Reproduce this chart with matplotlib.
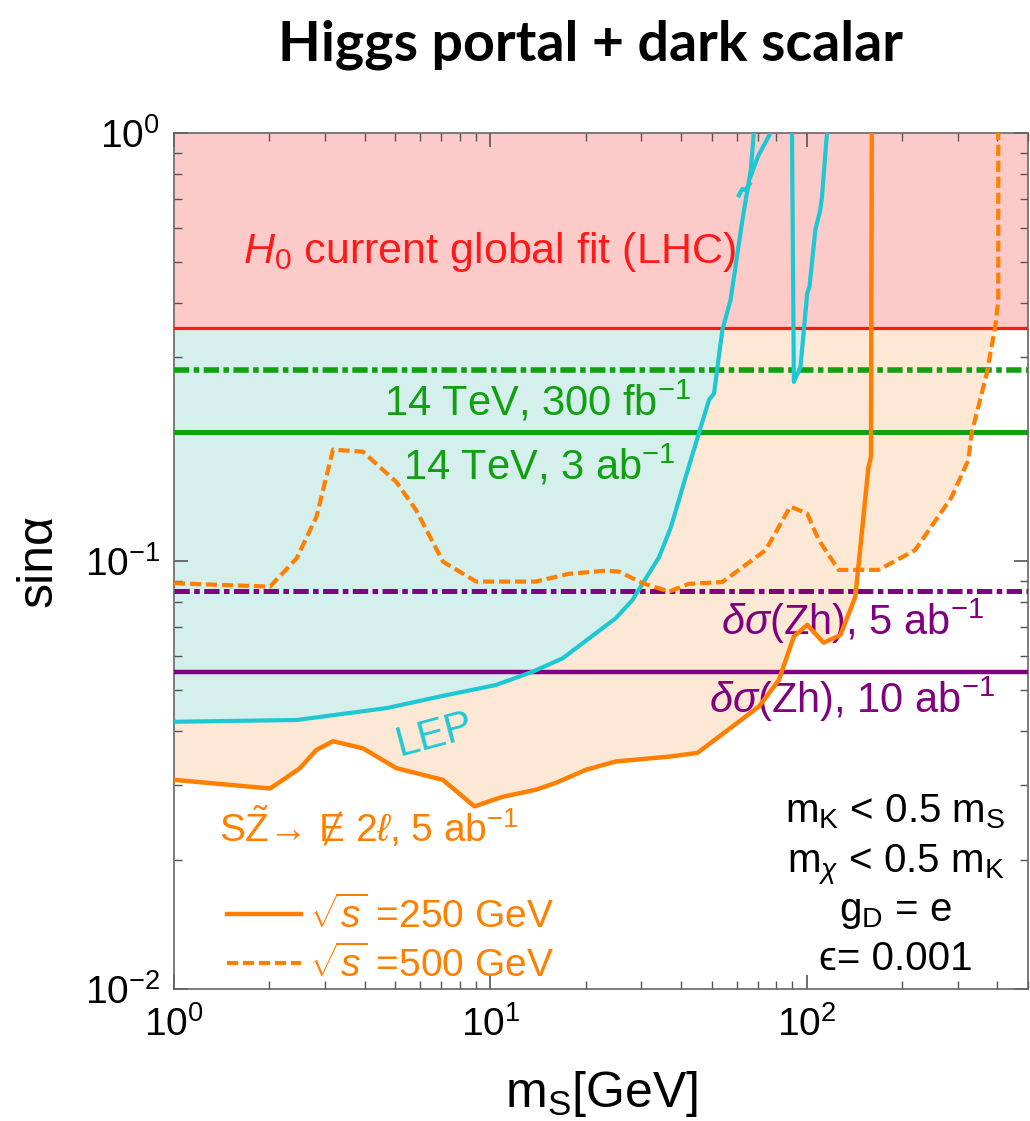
import matplotlib
matplotlib.use("Agg")
import matplotlib.pyplot as plt
from matplotlib.ticker import LogLocator, LogFormatterSciNotation, NullFormatter

plt.rcParams['font.family'] = ['Liberation Sans', 'DejaVu Sans']
plt.rcParams['mathtext.fontset'] = 'custom'
plt.rcParams['mathtext.rm'] = 'Liberation Sans'
plt.rcParams['mathtext.it'] = 'Liberation Sans:italic'
plt.rcParams['mathtext.bf'] = 'Liberation Sans:bold'
plt.rcParams['lines.scale_dashes'] = False

# limits on sin(alpha)
lhc_now = 0.35
hl_300fb = 0.28
hl_3ab = 0.20
zh_5ab = 0.085
zh_10ab = 0.055

# LEP exclusion
lep_m = [1.0, 2.44, 4.69, 7.08, 10.4, 13.6, 16.9, 24.9, 28.1, 31.7, 34.1, 37.2,
         41.4, 45.6, 49.1, 50.9, 52.2, 54.1, 57.4, 62.6, 66.5, 68.0]
lep_s = [0.0421, 0.0425, 0.0453, 0.0484, 0.0513, 0.0551, 0.0592, 0.0735, 0.081,
         0.0935, 0.102, 0.120, 0.157, 0.199, 0.238, 0.246, 0.284, 0.347, 0.407,
         0.627, 0.82, 1.0]
lep2_m = [66.4, 70.0, 76.8]
lep2_s = [0.79, 0.88, 1.0]
hook_m = [61.0, 62.5, 64.0, 66.0]
hook_s = [0.715, 0.74, 0.735, 0.76]
# LEP band near the Z pole
lepz_m = [89.8, 91.0, 95.5, 100.3, 102.0, 106.4, 110.3, 111.7, 115.8]
lepz_s = [1.0, 0.262, 0.284, 0.422, 0.438, 0.593, 0.661, 0.71, 1.0]

# S Z~ -> MET 2l, 5 ab^-1
m250 = [1.0, 2.01, 2.21, 2.50, 2.82, 3.18, 3.95, 5.04, 7.07, 8.9, 10.9, 13.9, 16.1,
        20.0, 24.9, 36.7, 45.1, 70.6, 81.6, 91.0, 100.3, 113.0, 127.7, 142.4, 156.5,
        159.5, 160.5]
s250 = [0.0308, 0.0294, 0.0308, 0.0328, 0.0362, 0.0379, 0.0365, 0.0328, 0.0308,
        0.0267, 0.0281, 0.0292, 0.0303, 0.0325, 0.034, 0.0349, 0.0356, 0.0457, 0.0527,
        0.0666, 0.0709, 0.0644, 0.0671, 0.0825, 0.165, 0.175, 1.0]
m500 = [1.0, 2.01, 2.44, 2.82, 3.18, 3.95, 5.04, 5.82, 7.08, 9.01, 13.9, 17.7, 23.2,
        25.5, 30.3, 36.7, 42.4, 54.1, 61.0, 74.1, 88.7, 100.3, 109.0, 126.0, 168.7,
        220.0, 287.0, 324.0, 332.0, 371.0, 394.0, 403.0, 403.0]
s500 = [0.0887, 0.0871, 0.1014, 0.127, 0.182, 0.180, 0.153, 0.1315, 0.0996, 0.0895,
        0.0895, 0.0933, 0.0949, 0.0944, 0.0887, 0.0848, 0.0884, 0.0893, 0.0953, 0.106,
        0.134, 0.129, 0.112, 0.0953, 0.0953, 0.106, 0.141, 0.172, 0.199, 0.275, 0.353,
        0.407, 1.0]

c_red, c_pink = '#ff1a1a', '#fdcaca'
c_cyan, c_cyanfill = '#1ec8d2', '#d5f0ec'
c_orange, c_orangefill = '#ff8000', '#fde8d6'
c_green, c_purple = '#10a010', '#800080'

fig = plt.figure(figsize=(10.3, 11.21), dpi=100)
ax = fig.add_axes([0.169, 0.1178, 0.829, 0.7636])
ax.set_xscale('log')
ax.set_yscale('log')
ax.set_xlim(1, 500)
ax.set_ylim(0.01, 1)

# shaded regions
ax.fill_between(m250, s250, 1, color=c_orangefill, lw=0, zorder=1)
ax.fill_between(m500, s500, 1, color=c_orangefill, lw=0, zorder=1)
ax.fill_between(lep_m, lep_s, 1, color=c_cyanfill, lw=0, zorder=1.1)
ax.fill(lepz_m, lepz_s, color=c_cyanfill, lw=0, zorder=1.1)
ax.axhspan(lhc_now, 1, color=c_pink, lw=0, zorder=1.2)

# horizontal limits
dashdot = (0, (11, 3.2, 4, 3.2))
ax.axhline(lhc_now, color=c_red, lw=2.3, zorder=3)
ax.axhline(hl_300fb, color=c_green, lw=4, ls=dashdot, zorder=3)
ax.axhline(hl_3ab, color=c_green, lw=3.6, zorder=3)
ax.axhline(zh_5ab, color=c_purple, lw=3.6, ls=dashdot, zorder=3)
ax.axhline(zh_10ab, color=c_purple, lw=3.2, zorder=3)

# LEP curves
ax.plot(lep_m, lep_s, color=c_cyan, lw=3, zorder=4)
ax.plot(lep2_m, lep2_s, color=c_cyan, lw=3, zorder=4)
ax.plot(hook_m, hook_s, color=c_cyan, lw=3, zorder=4)
ax.plot(lepz_m, lepz_s, color=c_cyan, lw=3, zorder=4)

# e+e- reach
l250, = ax.plot(m250, s250, color=c_orange, lw=3.2, zorder=5)
l500, = ax.plot(m500, s500, color=c_orange, lw=3, ls=(0, (8, 3.5)), zorder=5)

# labels on the plot
ax.text(1.65, 0.497, r'$H_0$ current global fit (LHC)', color=c_red, fontsize=31)
ax.text(4.60, 0.219, r'14 TeV, 300 fb$^{-1}$', color=c_green, fontsize=30)
ax.text(5.28, 0.1546, r'14 TeV, 3 ab$^{-1}$', color=c_green, fontsize=30)
ax.text(53.5, 0.0672, r'$\delta\sigma$(Zh), 5 ab$^{-1}$', color=c_purple, fontsize=30)
ax.text(49.1, 0.0441, r'$\delta\sigma$(Zh), 10 ab$^{-1}$', color=c_purple, fontsize=30)
ax.text(6.66, 0.0392, 'LEP', color=c_cyan, fontsize=30, rotation=15,
        ha='center', va='center')
ax.text(1.39, 0.0221, r'S$\tilde{\mathrm{Z}}$→ Ɇ 2$\ell$, 5 ab$^{-1}$',
        color=c_orange, fontsize=28)

notes = [r'm$_\mathrm{K}$ < 0.5 m$_\mathrm{S}$',
         r'm$_\chi$ < 0.5 m$_\mathrm{K}$',
         r'g$_\mathrm{D}$ = e',
         'ϵ= 0.001']
for i, t in enumerate(notes):
    ax.text(0.845, 0.194 - i * 0.0573, t, transform=ax.transAxes, fontsize=29,
            ha='center', va='baseline')

leg = ax.legend([l250, l500], [r'$\sqrt{s}$ =250 GeV', r'$\sqrt{s}$ =500 GeV'],
                loc='lower left', bbox_to_anchor=(0.058, 0.0), frameon=False,
                fontsize=28, handlelength=1.9, handletextpad=0.2, labelspacing=0.25,
                borderpad=0, borderaxespad=0.1, labelcolor=c_orange)

# axes styling
ax.tick_params(which='both', direction='in', top=True, right=True, colors='#555555',
               labelcolor='black', labelsize=28)
ax.tick_params(which='major', length=10, width=1.2)
ax.tick_params(which='minor', length=6, width=1)
ax.tick_params(axis='y', pad=10)
ax.tick_params(axis='x', pad=12)
ax.xaxis.set_major_locator(LogLocator(base=10, numticks=10))
ax.yaxis.set_major_locator(LogLocator(base=10, numticks=10))
ax.xaxis.set_minor_locator(LogLocator(base=10, subs=range(2, 10), numticks=20))
ax.yaxis.set_minor_locator(LogLocator(base=10, subs=range(2, 10), numticks=20))
ax.xaxis.set_major_formatter(LogFormatterSciNotation())
ax.yaxis.set_major_formatter(LogFormatterSciNotation())
ax.xaxis.set_minor_formatter(NullFormatter())
ax.yaxis.set_minor_formatter(NullFormatter())
for sp in ax.spines.values():
    sp.set_color('#666666')
    sp.set_linewidth(1.2)

ax.set_xlabel(r'm$_\mathrm{S}$[GeV]', fontsize=36)
ax.set_ylabel('sinα', fontsize=36)
ax.xaxis.set_label_coords(0.501, -0.093)
ax.yaxis.set_label_coords(-0.132, 0.501)

fig.text(0.573, 0.96, 'Higgs portal + dark scalar', fontsize=40, fontweight='bold',
         family='Lato', ha='center', va='center')

fig.savefig('out.png', dpi=100)
